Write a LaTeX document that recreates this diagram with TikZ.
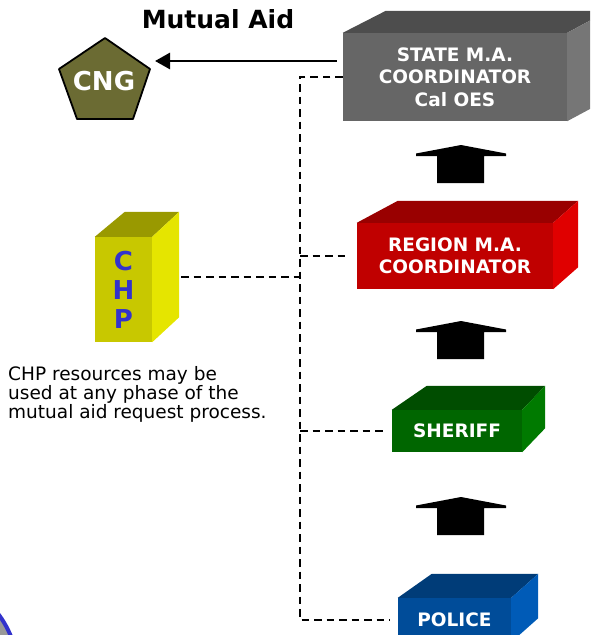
\documentclass[tikz,border=0pt]{standalone}
\usepackage{fontspec}
\setmainfont{DejaVu Sans}
\usepackage{tikz}
\usetikzlibrary{calc,arrows.meta}

\definecolor{stfront}{HTML}{666666}
\definecolor{sttop}{HTML}{4D4D4D}
\definecolor{stside}{HTML}{767676}
\definecolor{rgfront}{HTML}{C00000}
\definecolor{rgtop}{HTML}{990000}
\definecolor{rgside}{HTML}{E00000}
\definecolor{shfront}{HTML}{006600}
\definecolor{shtop}{HTML}{004D00}
\definecolor{shside}{HTML}{007A00}
\definecolor{pofront}{HTML}{004C99}
\definecolor{potop}{HTML}{003C78}
\definecolor{poside}{HTML}{005BB7}
\definecolor{chfront}{HTML}{C8C800}
\definecolor{chtop}{HTML}{999900}
\definecolor{chside}{HTML}{E5E500}
\definecolor{olive}{HTML}{6B6B33}
\definecolor{chpblue}{HTML}{3333CC}

% top and right faces of a box whose front face is the node #1
\newcommand{\boxfaces}[6]{%
  \fill[#5] (#1.north west) -- ++(#2,-#4) -- ([shift={(#3,-#4)}]#1.north east) -- (#1.north east) -- cycle;
  \fill[#6] (#1.north east) -- ([shift={(#3,-#4)}]#1.north east) -- ([shift={(#3,-#4)}]#1.south east) -- (#1.south east) -- cycle;}

\tikzset{
  front/.style={inner sep=0pt, text=white, align=center, font=\bfseries\fontsize{18.5}{22.5}\selectfont},
  link/.style={line width=2pt, dash pattern=on 7.5pt off 5pt},
  feed/.style={line width=2.8pt, -{Triangle[length=15pt,width=16pt]}},
  uparrow/.pic={\fill (-24,38) -- (-24,11) -- (-45,11) -- (-45,8.5) -- (0,0) -- (45,8.5) -- (45,11) -- (23,11) -- (23,38) -- cycle;}
}

\begin{document}
\begin{tikzpicture}[x=1pt,y=-1pt]
  \useasboundingbox (0,0) rectangle (590,635);
  \clip (0,0) rectangle (590,635);

  % corner of the page decoration
  \filldraw[fill=gray!80, draw=chpblue, line width=4pt] (-80,673) circle (98);

  \node[anchor=base, font=\bfseries\fontsize{25}{30}\selectfont] (title) at (218,28) {Mutual Aid};

  % the boxes
  \node[front, fill=stfront, minimum width=224pt, minimum height=88pt] (state) at (455,77) {STATE M.A.\\COORDINATOR\\Cal OES};
  \boxfaces{state}{43}{41}{22}{sttop}{stside}
  \node[front, fill=rgfront, minimum width=196pt, minimum height=66pt] (region) at (455,256) {REGION M.A.\\COORDINATOR};
  \boxfaces{region}{41}{25}{22}{rgtop}{rgside}
  \node[front, fill=shfront, minimum width=130pt, minimum height=42pt] (sheriff) at (457,431) {SHERIFF};
  \boxfaces{sheriff}{35}{23}{24}{shtop}{shside}
  \node[front, fill=pofront, minimum width=113pt, minimum height=44pt] (police) at (454.5,620) {POLICE};
  \boxfaces{police}{34}{27}{24}{potop}{poside}
  \node[front, fill=chfront, minimum width=57pt, minimum height=105pt, text=chpblue, font=\bfseries\fontsize{26}{29}\selectfont] (chp) at (123.5,289.5) {C\\H\\P};
  \boxfaces{chp}{30}{27}{25}{chtop}{chside}

  % CNG
  \filldraw[fill=olive, line width=1.8pt, line join=round] (105,38) -- (150,69) -- (133,119) -- (77,119) -- (59,69) -- cycle;
  \node[text=white, font=\bfseries\fontsize{26}{30}\selectfont, inner sep=0pt] (cng) at (104,81) {CNG};

  \node[anchor=north west, align=left, inner sep=0pt, font=\fontsize{18.5}{19}\selectfont] (note) at (8,366)
    {CHP resources may be\\used at any phase of the\\mutual aid request process.};

  % request arrows
  \pic at (461,145) {uparrow};
  \pic at (461,321) {uparrow};
  \pic at (461,497) {uparrow};

  % connectors
  \coordinate (bus) at (300,75);
  \coordinate (cngtip) at (155,61);
  \draw[feed, shorten <=6pt] ([yshift=16pt]state.west) -- (cngtip);
  \draw[link] (state.west) -- (state.west -| bus) -- (police.west -| bus) -- ([xshift=-8pt]police.west);
  \draw[link] (region.west -| bus) -- ([xshift=-10pt]region.west);
  \draw[link] (sheriff.west -| bus) -- ([xshift=-9pt]sheriff.west);
  \draw[link] ([xshift=29pt,yshift=13pt]chp.east) -- ([yshift=13pt]chp.east -| bus);
\end{tikzpicture}
\end{document}
